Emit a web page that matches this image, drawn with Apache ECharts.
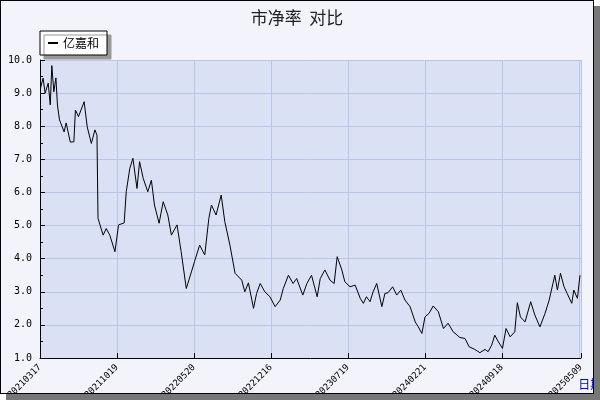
<!DOCTYPE html>
<html><head><meta charset="utf-8">
<script src="https://cdn.jsdelivr.net/npm/echarts@6/dist/echarts.min.js"></script>
<style>
body{margin:0;background:#fff;}
#frame{position:absolute;left:0;top:0;width:592px;height:392px;border:1px solid #000;background:#f2f3fb;box-shadow:6px 6px 0 #777;}
#c{position:absolute;left:0;top:0;width:594px;height:394px;}
</style></head><body>
<div id="frame"></div><div id="c"></div>
<script>
const tickLabels=['20210317','20211019','20220520','20221216','20230719','20240221','20240918','20250509'];
const dayIndex=[1,6,10,16,20,23,27,31,34,38,47,51,59,66,69,75,86,92,100,107,111,113,123,129,136,146,153,164,168,175,181,189,194,201,210,217,223,232,240,249,256,267,275,285,295,301,311,321,329,334,343,353,360,370,380,393,399,406,416,422,429,438,448,458,468,474,484,493,500,512,520,529,540,546,555,565,573,579,588,594,604,614,624,630,636,643,649,656,666,672,678,687,695,703,711,721,731,737,744,750,758,766,776,786,795,805,818,828,836,847,857,867,873,880,886,893,901,908,916,925,930,936,945,956,964,974,984,992,1003,1008,1014,1021,1027,1036,1040,1047,1052];
const pbValues=[9.15,9.45,9.0,9.3,8.64,9.83,9.04,9.46,8.64,8.19,7.83,8.1,7.52,7.53,8.49,8.29,8.74,7.98,7.48,7.89,7.73,5.22,4.71,4.91,4.71,4.21,5.02,5.08,6.02,6.73,7.03,6.12,6.93,6.43,6.02,6.37,5.62,5.07,5.72,5.32,4.71,5.02,4.21,3.1,3.6,3.91,4.41,4.11,5.22,5.62,5.32,5.92,5.12,4.41,3.56,3.35,3.0,3.27,2.5,2.95,3.25,3.0,2.85,2.55,2.75,3.1,3.5,3.25,3.4,2.9,3.25,3.5,2.85,3.4,3.66,3.35,3.25,4.06,3.66,3.3,3.15,3.2,2.8,2.65,2.85,2.7,3.0,3.25,2.55,2.95,2.97,3.15,2.9,3.05,2.75,2.55,2.09,1.94,1.74,2.24,2.35,2.57,2.4,1.89,2.05,1.79,1.62,1.59,1.34,1.26,1.16,1.26,1.19,1.39,1.69,1.49,1.29,1.89,1.64,1.79,2.67,2.24,2.09,2.7,2.3,1.94,2.35,2.75,3.5,3.05,3.56,3.15,2.95,2.65,3.05,2.8,3.5];
const data=dayIndex.map((d,i)=>[d,pbValues[i]]);
const chart=echarts.init(document.getElementById('c'));
const f='DejaVu Sans Mono';
chart.setOption({
 animation:false,
 title:{text:'市净率  对比',left:'center',top:4,textStyle:{fontSize:17,fontWeight:'normal',color:'#222',fontFamily:'Noto Sans CJK SC'}},
 legend:{left:40,top:31,itemWidth:10,itemHeight:2,icon:'rect',backgroundColor:'#fff',borderColor:'#000',borderWidth:1,padding:[6,8],
   shadowColor:'#999',shadowOffsetX:4,shadowOffsetY:4,shadowBlur:0,textStyle:{fontSize:12,color:'#000',fontFamily:'Noto Sans CJK SC'}},
 grid:{left:40,right:13,top:60,bottom:36,show:true,backgroundColor:'#dbe1f5',borderWidth:0,containLabel:false,outerBoundsMode:'none'},
 xAxis:{type:'value',min:0,max:1054,interval:150,name:'日期',nameLocation:'end',nameGap:0,
   nameTextStyle:{color:'#0000cc',fontSize:12,align:'right',verticalAlign:'top',padding:[20,0,0,0],fontFamily:'Noto Sans CJK SC'},
   axisLine:{lineStyle:{color:'#000'}},axisTick:{inside:true,length:5,lineStyle:{color:'#000'}},
   splitLine:{show:true,lineStyle:{color:'#b9c4e8'}},
   axisLabel:{rotate:45,fontSize:9,color:'#000',fontFamily:f,showMaxLabel:true,formatter:v=>tickLabels[Math.round(v/150)]||''}},
 yAxis:{type:'value',min:1,max:10,interval:1,
   axisLine:{show:true,lineStyle:{color:'#000'}},axisTick:{inside:true,length:5,lineStyle:{color:'#000'}},
   minorTick:{show:true,splitNumber:2,length:3,lineStyle:{color:'#000'}},
   splitLine:{lineStyle:{color:'#b9c4e8'}},
   axisLabel:{fontSize:10,color:'#000',fontFamily:f,formatter:v=>v.toFixed(1)}},
 series:[{name:'亿嘉和',type:'line',data:data,showSymbol:false,lineStyle:{color:'#000',width:1},itemStyle:{color:'#000'}}]
});
</script></body></html>
